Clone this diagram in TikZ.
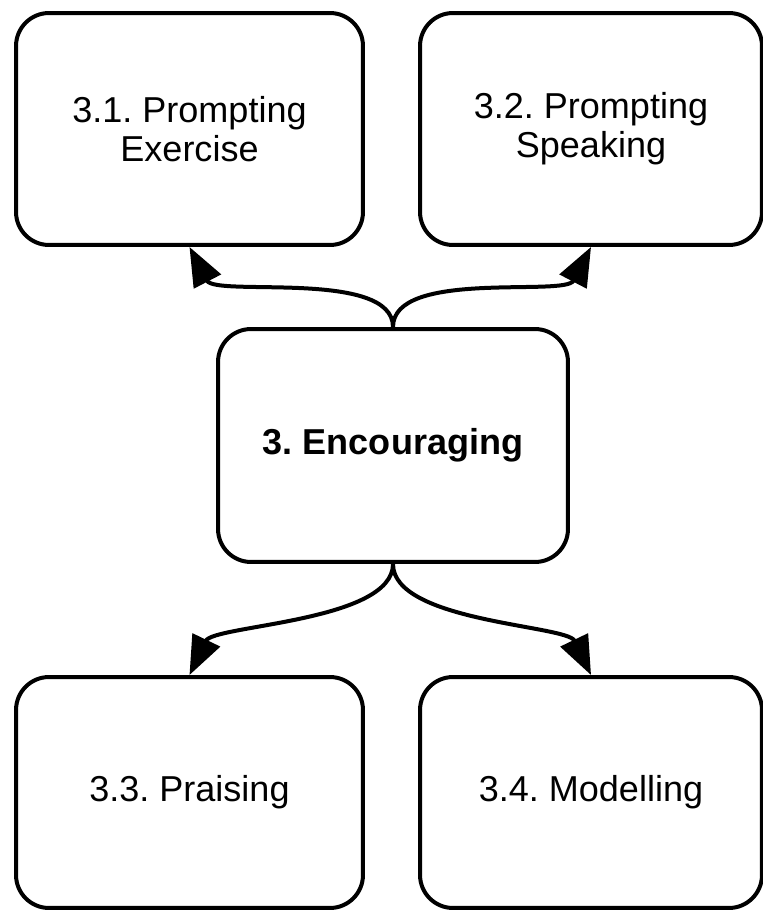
\documentclass[tikz,border=0pt]{standalone}
\usepackage{fontspec}
\setmainfont{Liberation Sans}
\usetikzlibrary{arrows.meta}
\frenchspacing

\begin{document}
\begin{tikzpicture}[x=0.02cm, y=-0.02cm]
\useasboundingbox (0,0) rectangle (763,912);
\begin{scope}[every node/.style={rectangle,rounded corners=0.66cm,draw,line width=0.08cm,align=center,font=\fontsize{20.5}{22}\selectfont}]
    \node (exercise) at (189.5, 129) [minimum width=6.94cm, minimum height=4.64cm] {3.1. Prompting\\Exercise};
    \node (speaking) at (591, 129) [minimum width=6.84cm, minimum height=4.64cm] {3.2. Prompting\\Speaking};

    \node (encouraging) at (393, 445.5) [minimum width=7cm, minimum height=4.66cm, font=\fontsize{20.5}{22}\selectfont\bfseries] {3. Encouraging};

    \node (praising) at (189.5, 792.5) [minimum width=6.94cm, minimum height=4.62cm] {3.3. Praising};
    \node (modelling) at (591, 792.5) [minimum width=6.84cm, minimum height=4.62cm] {3.4. Modelling};
\end{scope}

\begin{scope}[>={Triangle[length=0.78cm,width=0.6cm]}, line width=0.08cm]
    \draw [->] (encouraging.north) .. controls +(0,-58) and +(26,50) .. (exercise.south);
    \draw [->] (encouraging.north) .. controls +(0,-58) and +(-26,50) .. (speaking.south);
    \draw [->] (encouraging.south) .. controls +(0,58) and +(24,-50) .. (praising.north);
    \draw [->] (encouraging.south) .. controls +(0,58) and +(-24,-50) .. (modelling.north);
\end{scope}
\end{tikzpicture}
\end{document}
